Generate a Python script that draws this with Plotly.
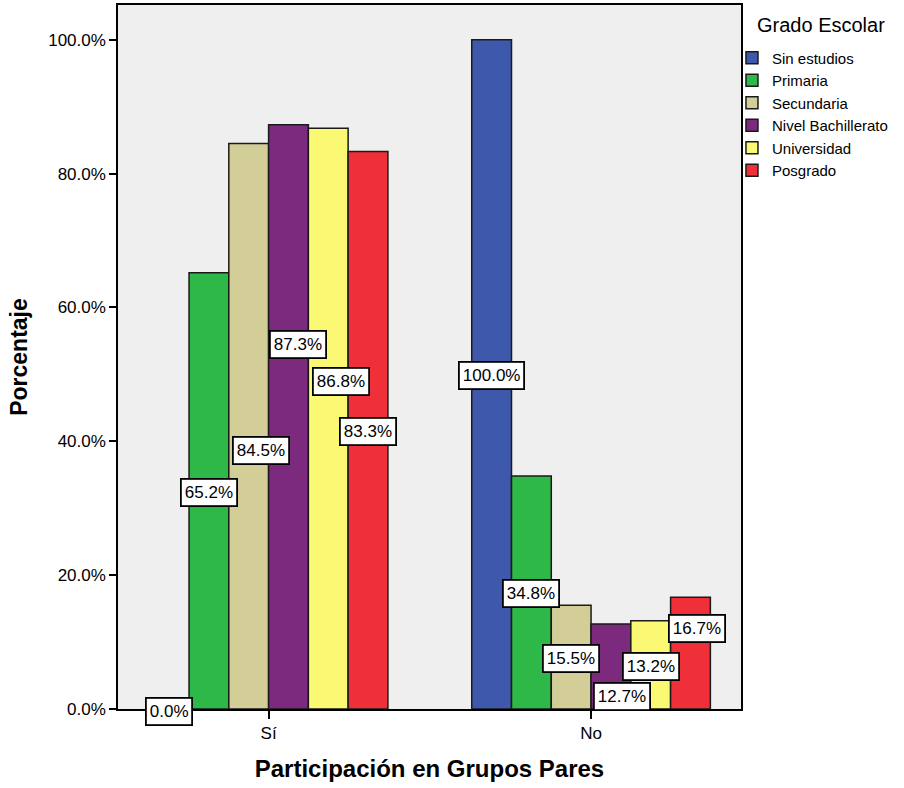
import plotly.graph_objects as go

# Participation in peer groups by school grade (percent within each grade)
categorias = ["Sí", "No"]
grados = ["Sin estudios", "Primaria", "Secundaria", "Nivel Bachillerato", "Universidad", "Posgrado"]
colores = ["#3E58AC", "#2EB848", "#D3CE97", "#7B2A7E", "#FBF873", "#EF3038"]
porcentajes = {
    "Sin estudios": [0.0, 100.0],
    "Primaria": [65.2, 34.8],
    "Secundaria": [84.5, 15.5],
    "Nivel Bachillerato": [87.3, 12.7],
    "Universidad": [86.8, 13.2],
    "Posgrado": [83.3, 16.7],
}
# vertical position of each value label (percent units) and small nudges in px
etiqueta_y = {
    "Sin estudios": [0.0, 49.8],
    "Primaria": [32.3, 17.3],
    "Secundaria": [38.6, 7.5],
    "Nivel Bachillerato": [54.4, 1.8],
    "Universidad": [49.0, 6.3],
    "Posgrado": [41.4, 12.1],
}
etiqueta_dx = {
    "Sin estudios": [0, 0],
    "Primaria": [0, 0],
    "Secundaria": [12, 0],
    "Nivel Bachillerato": [10, 11],
    "Universidad": [13, 0],
    "Posgrado": [0, 7],
}
etiqueta_dy = {
    "Sin estudios": [-2, 0],
}
y_ticks = [0, 20, 40, 60, 80, 100]

bargap = 0.26
n = len(grados)
ancho = (1 - bargap) / n
xs = list(range(len(categorias)))
fuente = "Liberation Sans, Arial"

fig = go.Figure()
for i, (g, c) in enumerate(zip(grados, colores)):
    fig.add_trace(go.Bar(
        x=xs, y=porcentajes[g], name=g,
        marker=dict(color=c, line=dict(color="#1a1a1a", width=1.5)),
    ))

anotaciones = []
for i, g in enumerate(grados):
    for k in xs:
        anotaciones.append(dict(
            x=k + (i - (n - 1) / 2) * ancho, y=etiqueta_y[g][k],
            xref="x", yref="y", xshift=etiqueta_dx[g][k],
            yshift=etiqueta_dy.get(g, [0, 0])[k],
            text=f"{porcentajes[g][k]:.1f}%", showarrow=False,
            font=dict(family=fuente, size=17, color="black"),
            bgcolor="white", bordercolor="black", borderwidth=1.8, borderpad=3,
        ))

# legend heading drawn separately so it can sit indented above the items
anotaciones.append(dict(
    text="Grado Escolar", xref="paper", yref="paper",
    x=1.0225, y=0.9716, xanchor="left", yanchor="middle", showarrow=False,
    font=dict(family=fuente, size=20, color="black"),
))

fig.update_layout(
    width=904, height=788,
    margin=dict(l=118, r=163, t=5, b=79, autoexpand=False),
    paper_bgcolor="white", plot_bgcolor="#EFEFEF",
    barmode="group", bargap=bargap, bargroupgap=0,
    font=dict(family=fuente, size=17, color="black"),
    annotations=anotaciones,
    legend=dict(
        x=0.9855, xanchor="left", y=0.948, yanchor="top",
        font=dict(size=15), tracegroupgap=0, itemwidth=30,
        bgcolor="rgba(0,0,0,0)",
    ),
    xaxis=dict(
        tickvals=xs, ticktext=categorias, range=[-0.467, 1.465],
        showgrid=False, zeroline=False,
        showline=True, linecolor="black", linewidth=1.5, mirror=True,
        ticks="outside", ticklen=8, tickcolor="black", tickwidth=1.5,
        title=dict(text="<b>Participación en Grupos Pares</b>", font=dict(size=24), standoff=18),
    ),
    yaxis=dict(
        range=[0, 105.2], tickvals=y_ticks,
        ticktext=[f"{v:.1f}%" for v in y_ticks],
        showgrid=False, zeroline=False,
        showline=True, linecolor="black", linewidth=1.5, mirror=True,
        ticks="outside", ticklen=7, tickcolor="black", tickwidth=1.5,
        title=dict(text="<b>Porcentaje</b>", font=dict(size=23), standoff=14),
    ),
)

fig.write_html("out.html")
